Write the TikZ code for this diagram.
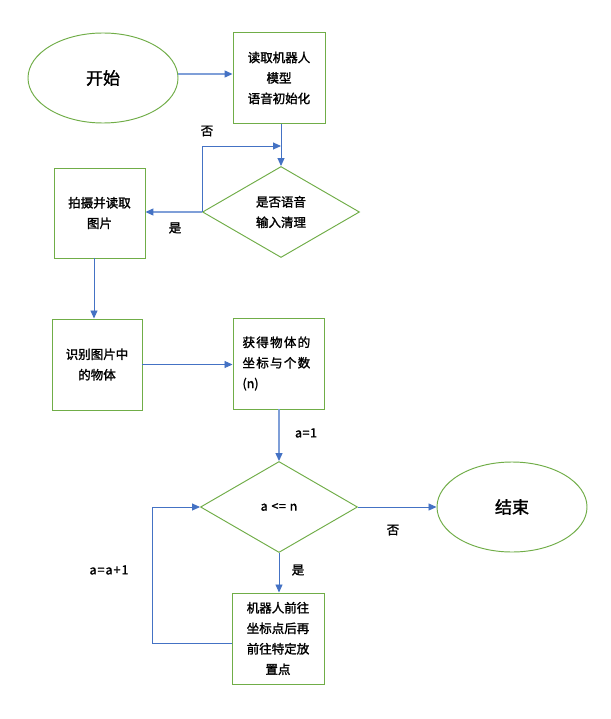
\documentclass[tikz,border=0pt]{standalone}
\usepackage{fontspec}
\setmainfont{Noto Sans CJK SC}[FakeBold=1.6]
\usetikzlibrary{arrows.meta,shapes.geometric}
\definecolor{gr}{HTML}{70AD47}
\definecolor{bl}{HTML}{4472C4}
\definecolor{lb}{HTML}{7F9FD8}
\begin{document}
\begin{tikzpicture}[x=1pt,y=-1pt,
  txt/.style={font=\fontsize{12.5}{20.5}\selectfont},
  bigtxt/.style={font=\fontsize{17}{20}\selectfont},
  term/.style={ellipse,draw=gr,line width=0.95pt,minimum width=150pt,minimum height=90pt,inner sep=0pt,bigtxt},
  proc/.style={rectangle,draw=gr,line width=0.95pt,minimum width=92pt,minimum height=91pt,inner sep=0pt,align=center,txt},
  deci/.style={diamond,draw=gr,line width=0.95pt,minimum width=157pt,minimum height=91pt,inner sep=0pt,align=center,txt},
  flow/.style={draw=bl,line width=0.9pt,-{Triangle[length=8pt,width=7pt]}},
  lflow/.style={draw=lb,line width=1.3pt,-{Triangle[length=8pt,width=7pt,color=bl]}},
  lbl/.style={txt,inner sep=0pt}]
\useasboundingbox (0,0) rectangle (610,719);
\fill[white] (0,0) rectangle (610,719);

\node[term] (start) at (103,78) {开始};
\node[proc] (box1) at (279,78) {读取机器人\\模型\\语音初始化};
\node[deci] (d1) at (281,212) {是否语音\\输入清理};
\node[proc,minimum width=91pt,minimum height=90pt] (box2) at (99.5,213) {拍摄并读取\\图片};
\node[proc,minimum width=90pt] (box3) at (97,364.5) {识别图片中\\的物体};
\node[proc,minimum width=91pt,align=left,text width=72pt] (box4) at (278.5,363.5)
  {获\hspace{1.3pt}得\hspace{1.3pt}物\hspace{1.3pt}体\hspace{1.3pt}的\\坐\hspace{1.3pt}标\hspace{1.3pt}与\hspace{1.3pt}个\hspace{1.3pt}数\\(n)};
\node[deci] (d2) at (279,507) {a\hspace{1pt} <\hspace{0.5pt}= \hspace{1pt}n};
\node[term] (end) at (512,507) {结束};
\node[proc] (box5) at (278,638.5) {机器人前往\\坐标点后再\\前往特定放\\置点};

\coordinate (n1) at (281,146);
\coordinate (c2) at (152,507);

\draw[lflow] ([yshift=4pt]start.east) -- ([yshift=4pt]box1.west);
\draw[flow] (box1.south -| d1.north) -- (d1.north);
\draw[flow] (d1.west) |- (n1);
\draw[lflow] (d1.west) -- (d1.west -| box2.east);
\draw[flow] ([xshift=-5.5pt]box2.south) -- ([xshift=-5.5pt]box2.south |- box3.north);
\draw[flow] (box3.east) -- (box3.east -| box4.west);
\draw[lflow] (d2.north |- box4.south) -- (d2.north);
\draw[flow] (d2.east) -- (end.west);
\draw[flow] (d2.south) -- (d2.south |- box5.north);
\draw[flow] ([yshift=-4.5pt]box5.west) -| (c2) -- (d2.west);

\node[lbl] (l1) at (207,131) {否};
\node[lbl] (l2) at (175,228) {是};
\node[lbl] (l3) at (306,433) {a\hspace{0.5pt}=\hspace{0.5pt}1};
\node[lbl] (l4) at (393,530) {否};
\node[lbl] (l5) at (298,570) {是};
\node[lbl] (l6) at (109,570) {a\hspace{1pt}=\hspace{1pt}a\hspace{1pt}+\hspace{1pt}1};
\end{tikzpicture}
\end{document}
